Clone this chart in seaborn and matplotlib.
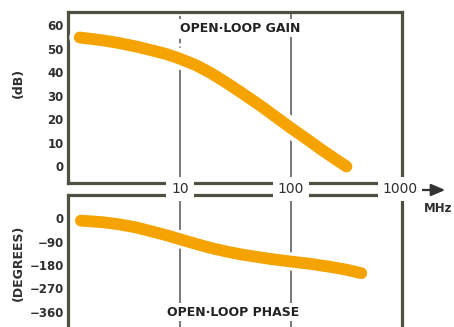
import matplotlib
matplotlib.use("Agg")
import matplotlib.pyplot as plt
import pandas as pd
import seaborn as sns
from matplotlib.transforms import blended_transform_factory

# ---- data ----
gain_freq = [1.25, 2.0, 2.7, 4.0, 5.4, 7.5, 10, 14, 19, 26, 35, 53, 75, 100,
             140, 190, 250, 316]
gain_db = [54.7, 53.5, 52.5, 50.9, 49.4, 47.7, 45.7, 42.9, 39.6, 35.6, 31.6,
           25.8, 20.6, 16.3, 11.5, 7.0, 3.2, 0.0]
phase_freq = [1.28, 2.0, 2.7, 4.0, 5.4, 7.5, 10, 14, 18.7, 26, 35, 46, 65,
              100, 150, 230, 320, 430]
phase_deg = [-9, -15, -22, -35, -49, -65, -81, -99, -114, -128, -139, -147,
             -157, -167, -176, -188, -199, -212]
gain_ticks = [0, 10, 20, 30, 40, 50, 60]
phase_ticks = [0, -90, -180, -270, -360]
x_ticks = [10, 100, 1000]
x_tick_labels = ["10", "100", "1000"]

sns.set_theme(style="white")
plt.rcParams["font.family"] = ["DejaVu Sans"]

ORANGE = "#F5A300"
FRAME = "#4f5040"
GRID = "#555555"
TXT = "#2f2f2f"

W, H = 454, 327
fig = plt.figure(figsize=(W / 100, H / 100), dpi=100)
fig.patch.set_facecolor("white")


def px_axes(left, top, right, bottom):
    return [left / W, 1 - bottom / H, (right - left) / W, (bottom - top) / H]


def fx(x):
    return x / W


def fy(y):
    return 1 - y / H


ax_b = fig.add_axes(px_axes(68, 195, 402, 340))
ax_t = fig.add_axes(px_axes(68, 12, 402, 183))
ax_t.set_zorder(2)
ax_b.set_zorder(1)

gdf = pd.DataFrame({"freq": gain_freq, "db": gain_db})
pdf = pd.DataFrame({"freq": phase_freq, "deg": phase_deg})

# white halo + orange curves
sns.lineplot(data=gdf, x="freq", y="db", ax=ax_t, color="white", lw=15,
             solid_capstyle="round", zorder=3, legend=False)
sns.lineplot(data=gdf, x="freq", y="db", ax=ax_t, color=ORANGE, lw=8.5,
             solid_capstyle="round", solid_joinstyle="round", zorder=4,
             legend=False)
sns.lineplot(data=pdf, x="freq", y="deg", ax=ax_b, color="white", lw=13,
             solid_capstyle="round", zorder=3, legend=False)
sns.lineplot(data=pdf, x="freq", y="deg", ax=ax_b, color=ORANGE, lw=8.5,
             solid_capstyle="round", solid_joinstyle="round", zorder=4,
             legend=False)

for ax in (ax_t, ax_b):
    ax.set_xscale("log")
    ax.set_xlim(0.98, 1000)
    ax.set_facecolor("white")
    ax.grid(False)
    for s in ax.spines.values():
        s.set_color(FRAME)
        s.set_linewidth(2.3)
    ax.set_xticks([])
    ax.minorticks_off()
    ax.tick_params(axis="x", which="both", length=0, labelbottom=False)
    ax.tick_params(axis="y", direction="in", length=4, width=1.2, color=FRAME,
                   pad=3, labelsize=8.5, labelcolor=TXT)
    ax.set_xlabel("")
    ax.set_ylabel("")

# gridlines
ax_t.axvline(10, ymin=0, ymax=0.77, color=GRID, lw=1.1, zorder=1)
ax_t.axvline(10, ymin=0.77, ymax=1, color=GRID, lw=1.1, ls=(0, (3, 2)), zorder=1)
ax_t.axvline(100, color=GRID, lw=1.1, zorder=1)
ax_b.axvline(10, color=GRID, lw=1.1, zorder=1)
ax_b.axvline(100, color=GRID, lw=1.1, zorder=1)

ax_t.set_ylim(-7.0, 65.5)
ax_t.set_yticks(gain_ticks)
ax_b.set_ylim(-470, 90)
ax_b.set_yticks(phase_ticks)
for lbl in ax_t.get_yticklabels() + ax_b.get_yticklabels():
    lbl.set_fontweight("bold")

ax_b.spines["bottom"].set_visible(False)

# y-axis labels
fig.text(fx(18), fy(83), "(dB)", rotation=90, ha="center", va="center",
         fontsize=9, fontweight="bold", color=TXT)
fig.text(fx(18), fy(263), "(DEGREES)", rotation=90, ha="center", va="center",
         fontsize=9, fontweight="bold", color=TXT)

# panel titles
fig.text(fx(240), fy(28), "OPEN·LOOP GAIN", ha="center", va="center",
         fontsize=9, fontweight="bold", color="#222222", zorder=10,
         bbox=dict(facecolor="white", edgecolor="none", pad=1.5))
fig.text(fx(233), fy(312), "OPEN·LOOP PHASE", ha="center", va="center",
         fontsize=9, fontweight="bold", color="#222222", zorder=10,
         bbox=dict(facecolor="white", edgecolor="none", pad=1.5))

# x tick labels between the panels, breaking the double rule
btr = blended_transform_factory(ax_t.transData, fig.transFigure)
for xv, lab in zip(x_ticks, x_tick_labels):
    xx = 960 if xv == 1000 else xv
    fig.text(xx, fy(189), lab, transform=btr, ha="center", va="center",
             fontsize=10, color=TXT, zorder=10,
             bbox=dict(facecolor="white", edgecolor="none", pad=3.5))

# MHz arrow
ax_t.annotate("", xy=(fx(448), fy(190)), xytext=(fx(419), fy(190)),
              xycoords="figure fraction", textcoords="figure fraction",
              arrowprops=dict(arrowstyle="-|>,head_length=0.7,head_width=0.3",
                              color="#333333", lw=1.6),
              annotation_clip=False)
fig.text(fx(438), fy(208), "MHz", ha="center", va="center", fontsize=8.5,
         fontweight="bold", color=TXT)

fig.savefig("out.png", dpi=100, facecolor="white")
